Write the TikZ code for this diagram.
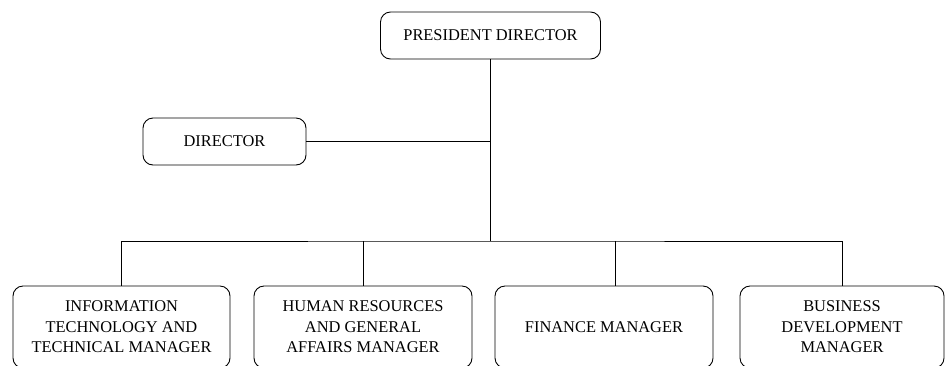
\documentclass[tikz,border=0pt]{standalone}
\usepackage{fontspec}
\setmainfont{Liberation Serif}
\usetikzlibrary{positioning}

\begin{document}
\begin{tikzpicture} [x=1pt, y=-1pt, node distance =1cm and 1cm ,on grid, line width=0.9pt,
	box/.style ={draw, rounded corners=10pt, align=center, inner sep=2pt,
		font=\fontsize{16.4}{20.5}\selectfont, minimum height=47pt}]
		\useasboundingbox (0,0) rectangle (949,365);
		\node[box, minimum width=220pt] (pd) at (490.5,35.5) {PRESIDENT DIRECTOR};
		\node[box, minimum width=163pt] (dir) [below left=106pt and 266pt of pd] {DIRECTOR};
		\node[box, minimum width=217pt, minimum height=82pt] (it) at (121.5,327) {INFORMATION\\TECHNOLOGY AND\\TECHNICAL MANAGER};
		\node[box, minimum width=218pt, minimum height=82pt] (hr) [right=241.5pt of it] {HUMAN RESOURCES\\AND GENERAL\\AFFAIRS MANAGER};
		\node[box, minimum width=218pt, minimum height=82pt] (fin) [right=241pt of hr] {FINANCE MANAGER};
		\node[box, minimum width=204pt, minimum height=82pt] (bd) [right=238pt of fin] {BUSINESS\\DEVELOPMENT\\MANAGER};
		\coordinate (bus) at (pd |- 0,241);
		\draw (pd.south) -- (bus);
		\draw (dir.east) -- (dir.east -| pd);
		\draw (it.north) |- (bus) -| (bd.north);
		\draw (hr.north) -- (hr.north |- bus);
		\draw ([xshift=11pt]fin.north) -- ([xshift=11pt]fin.north |- bus);
	\end{tikzpicture}
\end{document}
